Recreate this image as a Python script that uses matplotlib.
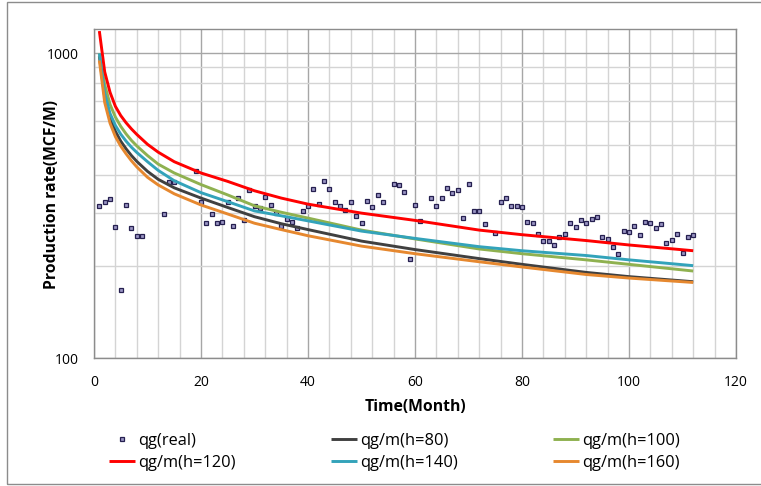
import matplotlib
matplotlib.use("Agg")
import matplotlib.pyplot as plt
from matplotlib.lines import Line2D
from matplotlib.patches import Rectangle
from matplotlib.ticker import FixedLocator, NullFormatter, FixedFormatter

plt.rcParams['font.family'] = ['Open Sans', 'DejaVu Sans']

# ---- data ----
real_month = [1, 2, 3, 4, 5, 6, 7, 8, 9, 13, 14, 15, 19, 20, 21, 22, 23, 24, 25, 26,
              27, 28, 29, 30, 31, 32, 33, 34, 35, 36, 37, 38, 39, 40, 41, 42, 43, 44,
              45, 46, 47, 48, 49, 50, 51, 52, 53, 54, 56, 57, 58, 59, 60, 61, 63, 64,
              65, 66, 67, 68, 69, 70, 71, 72, 73, 75, 76, 77, 78, 79, 80, 81, 82, 83,
              84, 85, 86, 87, 88, 89, 90, 91, 92, 93, 94, 95, 96, 97, 98, 99, 100,
              101, 102, 103, 104, 105, 106, 107, 108, 109, 110, 111, 112]
real_rate = [315, 324, 332, 270, 167, 319, 267, 251, 251, 297, 377, 377, 410, 324, 277,
             298, 277, 279, 324, 271, 334, 284, 357, 316, 310, 339, 319, 299, 272, 286,
             279, 267, 303, 316, 358, 321, 382, 360, 324, 315, 307, 324, 293, 277, 327,
             314, 342, 324, 374, 369, 352, 211, 319, 281, 335, 316, 334, 362, 347, 355,
             288, 373, 303, 303, 276, 258, 324, 334, 316, 316, 313, 280, 277, 255, 242,
             242, 235, 249, 256, 277, 269, 284, 277, 286, 290, 250, 246, 231, 219, 261,
             259, 272, 254, 280, 277, 268, 275, 239, 244, 256, 222, 250, 254]

model_month = [1, 2, 3, 4, 5, 6, 7, 8, 10, 12, 15, 20, 25, 30, 35, 40, 50, 60, 72, 80,
               92, 100, 112]
q_h80 = [980, 720, 615, 555, 515, 486, 462, 442, 410, 386, 362, 335, 312, 291, 276,
         264, 242, 227, 212, 203, 191, 185, 178]
q_h100 = [1000, 790, 680, 618, 576, 544, 518, 497, 462, 433, 405, 371, 343, 316, 301,
          288, 263, 246, 228, 220, 210, 203, 193]
q_h120 = [1184, 870, 745, 670, 625, 592, 565, 542, 503, 474, 441, 405, 380, 354, 335,
          320, 299, 283, 263, 254, 243, 235, 225]
q_h140 = [1000, 740, 635, 580, 543, 515, 492, 473, 441, 413, 382, 349, 326, 304, 293,
          282, 261, 247, 232, 225, 217, 210, 201]
q_h160 = [948, 690, 590, 533, 496, 468, 444, 424, 392, 370, 346, 318, 297, 277, 264,
          252, 233, 220, 207, 199, 188, 183, 177]

x_ticks = [0, 20, 40, 60, 80, 100, 120]
y_ticks = [100, 1000]
y_tick_labels = ["100", "1000"]

series_labels = ["qg/m(h=80)", "qg/m(h=100)", "qg/m(h=120)", "qg/m(h=140)", "qg/m(h=160)"]
series_colors = ["#404040", "#8FB150", "#FF0000", "#33A3BA", "#E6882F"]

# ---- figure ----
W, H = 761, 486
fig = plt.figure(figsize=(W / 100, H / 100), dpi=100)
left, right, top, bottom = 94, 736, 29.3, 358
ax = fig.add_axes([left / W, 1 - bottom / H, (right - left) / W, (bottom - top) / H])

ax.set_yscale('log')
ax.set_xlim(0, 120)
ax.set_ylim(100, 1200)

ax.xaxis.set_major_locator(FixedLocator(x_ticks))
ax.xaxis.set_minor_locator(FixedLocator([m for m in range(4, 120, 4) if m % 20 != 0]))
ax.yaxis.set_major_locator(FixedLocator(y_ticks))
ax.yaxis.set_major_formatter(FixedFormatter(y_tick_labels))
ax.yaxis.set_minor_locator(FixedLocator([200, 300, 400, 500, 600, 700, 800, 900]))
ax.yaxis.set_minor_formatter(NullFormatter())
ax.xaxis.set_minor_formatter(NullFormatter())

ax.grid(which='major', color='#A6A6A6', lw=1.0, zorder=0)
ax.grid(which='minor', color='#D4D4D4', lw=1.0, zorder=0)
ax.set_axisbelow(True)
ax.tick_params(which='both', length=0, labelsize=10, colors='#000000')
ax.tick_params(axis='x', pad=12.5)
ax.tick_params(axis='y', pad=11)
for s in ax.spines.values():
    s.set_color('#8C8C8C')
    s.set_linewidth(1.0)

mk = dict(linestyle='none', marker='s', markersize=3.0,
          markerfacecolor='#9A95C4', markeredgecolor='#262050', markeredgewidth=0.9)
ax.plot(real_month, real_rate, zorder=2, **mk)

lines = []
for q, lab, c in zip([q_h80, q_h100, q_h120, q_h140, q_h160], series_labels, series_colors):
    ln, = ax.plot(model_month, q, color=c, lw=2.1, label=lab, zorder=3,
                  solid_joinstyle='round', solid_capstyle='butt')
    lines.append(ln)

fig.text(415 / W, 1 - 407 / H, "Time(Month)", fontsize=11.3, fontweight='bold',
         ha='center', va='center')
fig.text(52 / W, 1 - 194 / H, "Production rate(MCF/M)", fontsize=11.3,
         fontweight='bold', ha='center', va='center', rotation=90)

real_handle = Line2D([], [], **mk)
handles = [real_handle, lines[2], lines[0], lines[3], lines[1], lines[4]]
labels = ["qg(real)", series_labels[2], series_labels[0], series_labels[3],
          series_labels[1], series_labels[4]]
leg = fig.legend(handles, labels, ncol=3, loc='upper left',
                 bbox_to_anchor=(109 / W, 1 - 433 / H), frameon=False,
                 fontsize=11.8, handlelength=1.6, handletextpad=0.18,
                 columnspacing=5.8, labelspacing=0.37, borderpad=0,
                 borderaxespad=0)

fig.patches.append(Rectangle((7 / W, 2 / H), 800 / W, (484 - 2) / H,
                             transform=fig.transFigure, fill=False,
                             edgecolor='#8C8C8C', lw=1.0))

fig.savefig("out.png", dpi=100)
